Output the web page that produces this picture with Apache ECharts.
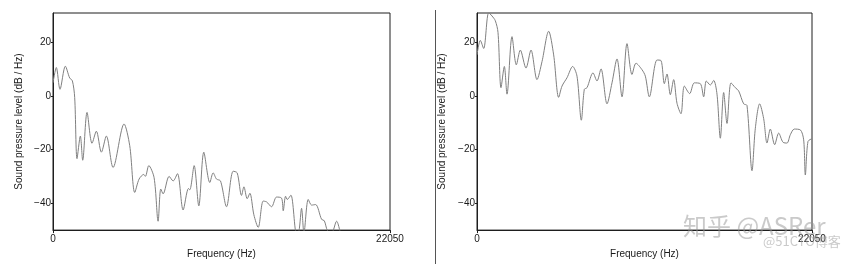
<!DOCTYPE html>
<html>
<head>
<meta charset="utf-8">
<script src="https://cdn.jsdelivr.net/npm/echarts@6/dist/echarts.min.js"></script>
<style>
html,body{margin:0;padding:0;background:#fff;}
#chart{width:860px;height:264px;}
</style>
</head>
<body>
<div id="chart"></div>
<script>
// Left panel spectrum (Hz, dB/Hz)
var leftFreq = [0,218,458,808,1092,1266,1419,1572,1790,1943,2227,2554,2838,3166,3493,3930,4650,5021,5349,5633,5938,6047,6266,6615,6877,7052,7205,7598,7860,8143,8514,8864,8951,9235,9540,9868,10261,10479,10698,10960,11353,11789,12051,12335,12492,12706,12881,13143,13427,13754,13972,14300,14627,14955,15064,15217,15326,15566,15937,16090,16265,16418,16701,16920,17182,17575,17749,17967,18230,18557,18775,18994];
var leftLevel = [4.8,10.5,2.4,11,6.6,5.6,-0.6,-23.4,-15,-24,-6.2,-17.7,-13.2,-21,-15,-26.7,-10.5,-18.6,-36,-31,-29.3,-30,-26,-30.5,-46.7,-34.7,-36.5,-30,-31.7,-29,-42.5,-34.5,-35,-26,-41,-21,-32.3,-28.7,-31,-31.7,-41.3,-28.1,-28.7,-37.1,-33.9,-38.3,-36.3,-44.3,-49,-39.2,-39.5,-41.3,-37.7,-38.1,-42.8,-37.4,-38.6,-37,-51.5,-50.5,-41.9,-51,-38.6,-40.7,-40.5,-46,-46.5,-50.3,-51,-46.7,-50.3,-55];
// Right panel spectrum (Hz, dB/Hz)
var rightFreq = [0,219,439,768,987,1207,1382,1580,1799,1975,2304,2589,2852,3225,3554,3949,4278,4717,5046,5375,5595,5924,6297,6582,6867,7065,7240,7635,7898,8162,8557,8886,9215,9544,9873,10202,10465,10860,11080,11343,11848,12111,12330,12506,12725,12945,13164,13427,13647,13998,14305,14700,14919,15095,15358,15577,15797,16016,16236,16455,16718,17003,17223,17552,17771,18101,18320,18605,18868,19088,19307,19592,19856,20141,20404,20624,20887,21282,21501,21611,21786,22050];
var rightLevel = [15.2,20.6,17.6,30.9,29.7,27.9,23.6,3,10.9,0.6,22,11.5,17,10.3,17,6,12.7,24,15.2,-0.6,3.6,6.7,10.9,7.3,-9.1,2.4,3,8.5,5.5,10,-3,4.8,13.7,-0.4,19.4,7.9,12.1,9.7,7.3,-0.4,13.3,13.1,4.5,8.1,0.4,6,-2.8,-6.7,3.6,0.8,4.8,4.5,-0.4,5.5,4,5.7,0.6,-15.8,1.2,-10.3,4.8,3,1.8,-3,-3.6,-27.9,-12.1,-3,-8.5,-17.6,-12.4,-18.2,-13.9,-17.3,-17.6,-14.5,-12.4,-12.7,-16.4,-29.5,-17,-16];
var yTicks = [-40,-20,0,20];
var xTicks = [0,22050];
var xTitle = 'Frequency (Hz)';
var yTitle = 'Sound pressure level (dB / Hz)';

function pairs(xs, ys){ return xs.map(function(x,i){ return [x, ys[i]]; }); }

var FONT = '"Liberation Sans", Arial, sans-serif';
var TXT = '#1a1a1a';
var AX = '#1e1e1e';

function xAxis(gi){
  return {
    gridIndex: gi, type: 'value', min: 0, max: 22050,
    name: xTitle, nameLocation: 'middle', nameGap: 15,
    nameTextStyle: {fontFamily: FONT, fontSize: 10, color: TXT},
    axisLine: {show: true, onZero: false, lineStyle: {color: AX, width: 1}},
    axisTick: {show: true, length: 3, customValues: xTicks, lineStyle: {color: AX}},
    axisLabel: {customValues: xTicks, fontFamily: FONT, fontSize: 10, color: TXT, margin: 4,
      formatter: function(v){ return String(v); }},
    splitLine: {show: false}
  };
}
function yAxis(gi, gap){
  return {
    gridIndex: gi, type: 'value', min: -50, max: 30.8,
    name: yTitle, nameLocation: 'middle', nameGap: gap, nameRotate: 90,
    nameTextStyle: {fontFamily: FONT, fontSize: 10, color: TXT},
    axisLine: {show: true, onZero: false, lineStyle: {color: AX, width: 1}},
    axisTick: {show: true, length: 2, customValues: yTicks, lineStyle: {color: AX}},
    axisLabel: {customValues: yTicks, fontFamily: FONT, fontSize: 10, color: TXT, margin: 2,
      formatter: function(v){ return v < 0 ? '\u2212' + Math.abs(v) : String(v); }},
    splitLine: {show: false}
  };
}
function series(gi, data){
  return {
    type: 'line', xAxisIndex: gi, yAxisIndex: gi, data: data,
    showSymbol: false, smooth: 0.3, clip: true, animation: false,
    lineStyle: {color: '#808080', width: 1}
  };
}

var chart = echarts.init(document.getElementById('chart'), null, {renderer: 'canvas'});
chart.setOption({
  animation: false,
  backgroundColor: '#fff',
  grid: [
    {left: 53, top: 13, width: 337, height: 225, show: true, borderColor: AX, borderWidth: 1, backgroundColor: 'transparent'},
    {left: 477, top: 13, width: 335, height: 225, show: true, borderColor: AX, borderWidth: 1, backgroundColor: 'transparent'}
  ],
  xAxis: [xAxis(0), xAxis(1)],
  yAxis: [yAxis(0, 29), yAxis(1, 30)],
  series: [series(0, pairs(leftFreq, leftLevel)), series(1, pairs(rightFreq, rightLevel))],
  graphic: [
    {type: 'line', shape: {x1: 435.5, y1: 10, x2: 435.5, y2: 264}, style: {stroke: '#555', lineWidth: 1}, silent: true},
    {type: 'text', left: 683, top: 214, style: {text: '知乎 @ASRer', font: '24px "Noto Sans CJK SC", sans-serif', fill: 'rgba(150,150,150,0.5)'}, silent: true, z: 10},
    {type: 'text', left: 763, top: 235, style: {text: '@51CTO博客', font: '13px "Noto Sans CJK SC", sans-serif', fill: 'rgba(150,150,150,0.5)'}, silent: true, z: 10}
  ]
});
</script>
</body>
</html>
